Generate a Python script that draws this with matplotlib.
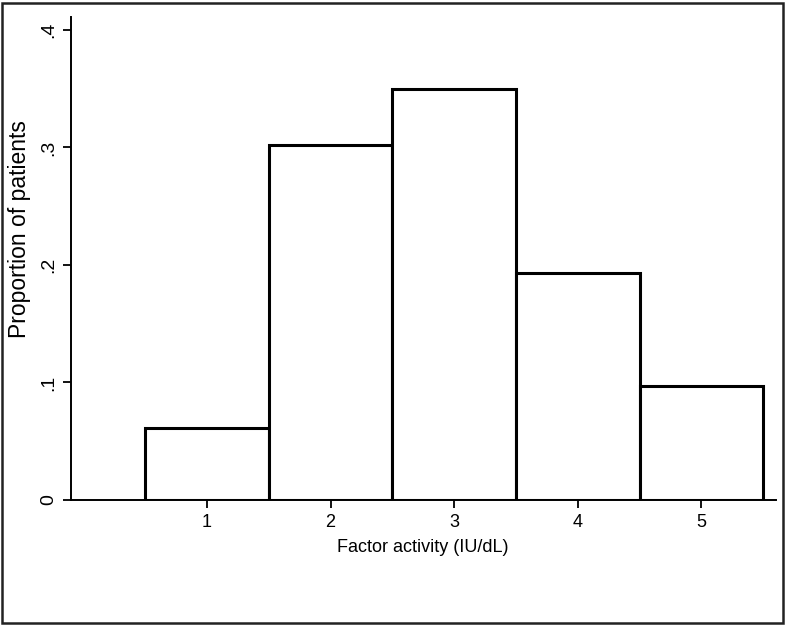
import matplotlib
matplotlib.use('Agg')
import matplotlib.pyplot as plt
from matplotlib.patches import Rectangle

# data
activity = [1, 2, 3, 4, 5]
proportion = [0.061, 0.302, 0.350, 0.193, 0.097]
yticks = [0, 0.1, 0.2, 0.3, 0.4]
ylabels = ['0', '.1', '.2', '.3', '.4']

plt.rcParams['font.family'] = ['Liberation Sans', 'DejaVu Sans']

fig = plt.figure(figsize=(7.87, 6.25), dpi=100)
ax = fig.add_axes([0.0902, 0.2, 0.8952, 0.7728])

ax.bar(activity, proportion, width=1.0, facecolor='white', edgecolor='black', linewidth=2.2, zorder=3)

ax.set_xlim(-0.1, 5.6)
ax.set_ylim(0, 0.411)
ax.set_xticks(activity)
ax.set_yticks(yticks)
ax.set_yticklabels(ylabels, rotation=90, va='center')
ax.tick_params(axis='both', length=6, width=1.3, labelsize=13, pad=4)
ax.tick_params(axis='y', labelsize=14)

for s in ['top', 'right']:
    ax.spines[s].set_visible(False)
for s in ['left', 'bottom']:
    ax.spines[s].set_linewidth(1.4)

ax.set_xlabel('Factor activity (IU/dL)', fontsize=13, labelpad=6)
ax.set_ylabel('Proportion of patients', fontsize=16.5, va='center')
ax.yaxis.set_label_coords(-0.073, 0.561)

# outer frame around the whole picture
fig.patches.append(Rectangle((0.002, 0.003), 0.993, 0.993, transform=fig.transFigure,
                             fill=False, edgecolor='#222222', linewidth=1.8))

fig.savefig('out.png', dpi=100)
